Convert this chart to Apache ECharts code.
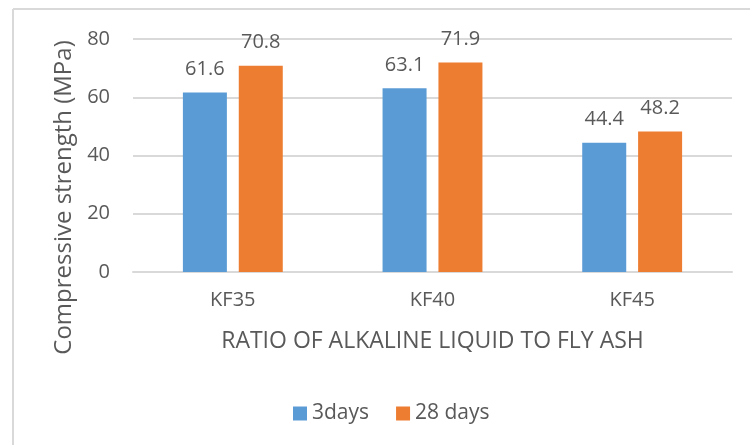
<!DOCTYPE html>
<html>
<head>
<meta charset="utf-8">
<script src="https://cdn.jsdelivr.net/npm/echarts@6/dist/echarts.min.js"></script>
<style>html,body{margin:0;padding:0;background:#fff}#c{width:750px;height:445px}</style>
</head>
<body>
<div id="c"></div>
<script>
var categories = ['KF35', 'KF40', 'KF45'];
var seriesNames = ['3days', '28 days'];
var days3 = [61.6, 63.1, 44.4];
var days28 = [70.8, 71.9, 48.2];
var yTicks = [0, 20, 40, 60, 80];
var xTitle = 'RATIO OF ALKALINE LIQUID TO FLY ASH';
var yTitle = 'Compressive strength (MPa)';

var FONT = 'Open Sans';
var TXT = '#595959';
var chart = echarts.init(document.getElementById('c'), null, {renderer: 'canvas'});
var lblStyle = {show: true, position: 'top', distance: 13, color: TXT, fontFamily: FONT, fontSize: 20};
chart.setOption({
  animation: false,
  backgroundColor: '#fff',
  graphic: [
    {type: 'line', shape: {x1: 13, y1: 9, x2: 750, y2: 9}, style: {stroke: '#D9D9D9', lineWidth: 2}},
    {type: 'line', shape: {x1: 13, y1: 9, x2: 13, y2: 445}, style: {stroke: '#D9D9D9', lineWidth: 2}}
  ],
  grid: {left: 133, right: 18, top: 39, bottom: 173, outerBoundsMode: 'none', containLabel: false},
  legend: {
    data: seriesNames, bottom: 16, left: 288, itemWidth: 14, itemHeight: 14, itemGap: 27,
    icon: 'rect',
    textStyle: {color: TXT, fontFamily: FONT, fontSize: 21}
  },
  xAxis: {
    type: 'category', data: categories,
    axisLine: {show: true, lineStyle: {color: '#D9D9D9', width: 2}},
    axisTick: {show: false},
    axisLabel: {color: TXT, fontFamily: FONT, fontSize: 20, margin: 18},
    name: xTitle, nameLocation: 'middle', nameGap: 58, nameMoveOverlap: false,
    nameTextStyle: {color: TXT, fontFamily: FONT, fontSize: 23}
  },
  yAxis: {
    type: 'value', min: yTicks[0], max: yTicks[yTicks.length - 1], interval: 20,
    axisLine: {show: false}, axisTick: {show: false},
    splitLine: {lineStyle: {color: '#D9D9D9', width: 2}},
    axisLabel: {color: TXT, fontFamily: FONT, fontSize: 20, margin: 23},
    name: yTitle, nameLocation: 'middle', nameGap: 57, nameMoveOverlap: false,
    nameTextStyle: {color: TXT, fontFamily: FONT, fontSize: 24, padding: [0, 84, 0, 0]}
  },
  series: [
    {name: seriesNames[0], type: 'bar', data: days3, barWidth: 44, barGap: '27%',
     itemStyle: {color: '#5B9BD5'}, label: lblStyle},
    {name: seriesNames[1], type: 'bar', data: days28, barWidth: 44,
     itemStyle: {color: '#ED7D31'}, label: lblStyle}
  ]
});
</script>
</body>
</html>
